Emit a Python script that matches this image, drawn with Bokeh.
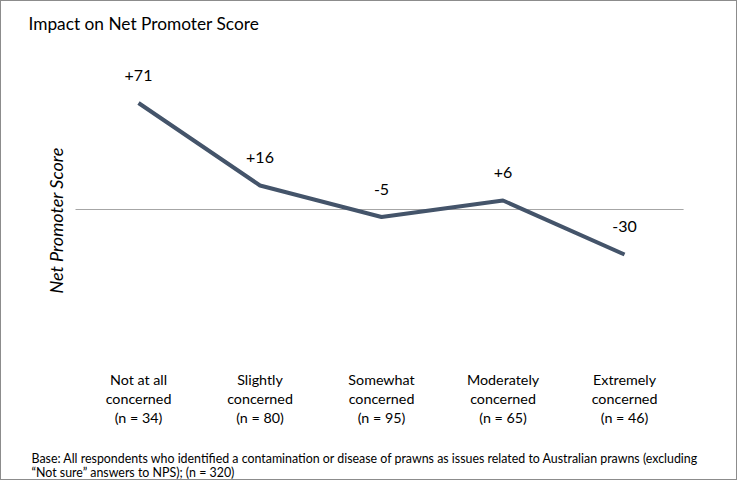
import math
from bokeh.plotting import figure
from bokeh.models import Range1d, Label, ColumnDataSource
from bokeh.core.properties import value
from bokeh.embed import file_html
from bokeh.resources import INLINE

categories = ["Not at all\nconcerned\n(n = 34)", "Slightly\nconcerned\n(n = 80)",
              "Somewhat\nconcerned\n(n = 95)", "Moderately\nconcerned\n(n = 65)",
              "Extremely\nconcerned\n(n = 46)"]
nps = [71, 16, -5, 6, -30]
nps_labels = ["+71", "+16", "-5", "+6", "-30"]
title_text = "Impact on Net Promoter Score"
y_label = "Net Promoter Score"
footnote = ["Base: All respondents who identified a contamination or disease of prawns as issues related to Australian prawns (excluding",
            "\u201cNot sure\u201d answers to NPS); (n = 320)"]

FONT = "Lato"
W, H = 737, 480
xs = list(range(len(categories)))
src = ColumnDataSource(dict(x=xs, y=nps, lab=nps_labels))

y_bottom = -181.33
p = figure(width=W, height=H, output_backend="svg", toolbar_location=None,
           x_range=Range1d(-1.1276, 4.938), y_range=Range1d(y_bottom, 138.67),
           min_border=0, min_border_left=0, min_border_right=0,
           min_border_top=0, min_border_bottom=0)
p.styles = {"border": "1.5px solid #8c8c8c"}
p.outline_line_color = None
p.grid.visible = False
p.axis.visible = False

# zero line
p.segment(x0=[xs[0] - 0.5185], x1=[xs[-1] + 0.486], y0=[0], y1=[0],
          line_color="#a6a6a6", line_width=1.2)
p.line("x", "y", source=src, line_color="#44546a", line_width=4)
p.text("x", "y", text="lab", source=src, y_offset=-28, text_align="center",
       text_baseline="middle", text_font=value(FONT), text_font_size="16px", text_color="#000000")

# category labels
cat_src = ColumnDataSource(dict(x=xs, y=[y_bottom] * len(xs), t=categories))
p.text("x", "y", text="t", source=cat_src, y_offset=-83, text_align="center",
       text_baseline="middle", text_font=value(FONT), text_font_size="14.3px",
       text_line_height=1.09, text_color="#000000")

p.add_layout(Label(x=27, y=458, x_units="screen", y_units="screen", text=title_text,
                   text_font=FONT, text_font_size="17.3px", text_baseline="middle", text_color="#000000"))
p.add_layout(Label(x=54, y=261, x_units="screen", y_units="screen", text=y_label, angle=math.pi/2,
                   text_font=FONT, text_font_size="18px", text_font_style="italic",
                   text_align="center", text_baseline="middle", text_color="#000000"))
for i, line in enumerate(footnote):
    p.add_layout(Label(x=30, y=23 - 13.5 * i, x_units="screen", y_units="screen", text=line,
                       text_font=FONT, text_font_size="12.4px", text_baseline="middle", text_color="#000000"))

open("out.html", "w").write(file_html(p, INLINE))
